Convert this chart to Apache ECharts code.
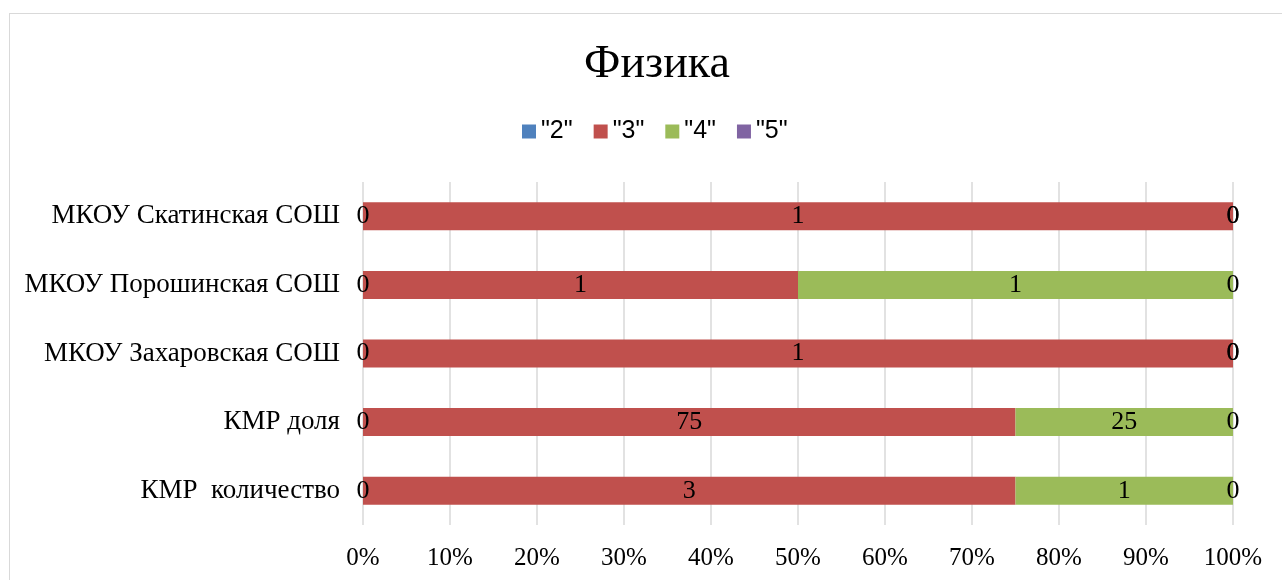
<!DOCTYPE html>
<html>
<head>
<meta charset="utf-8">
<script src="https://cdn.jsdelivr.net/npm/echarts@6/dist/echarts.min.js"></script>
<style>
  html, body { margin: 0; padding: 0; background: #fff; }
  #frame { position: absolute; left: 9px; top: 13px; width: 1290px; height: 600px; border: 1.5px solid #d9d9d9; box-sizing: border-box; }
  #chart { width: 1282px; height: 580px; position: absolute; left: 0; top: 0; }
</style>
</head>
<body>
<div id="frame"></div>
<div id="chart"></div>
<script>
// categories, bottom to top
const categories = ['КМР  количество', 'КМР доля', 'МКОУ Захаровская СОШ', 'МКОУ Порошинская СОШ', 'МКОУ Скатинская СОШ'];
const seriesNames = ['"2"', '"3"', '"4"', '"5"'];
const grade2 = [0, 0, 0, 0, 0];
const grade3 = [3, 75, 1, 1, 1];
const grade4 = [1, 25, 0, 1, 0];
const grade5 = [0, 0, 0, 0, 0];
const colors = ['#4f81bd', '#c0504d', '#9bbb59', '#8064a2'];

const raw = [grade2, grade3, grade4, grade5];
const totals = categories.map((c, i) => raw.reduce((s, arr) => s + arr[i], 0));

const serif = 'Liberation Serif';
const chart = echarts.init(document.getElementById('chart'));
chart.setOption({
  animation: false,
  title: {
    text: 'Физика',
    left: 652,
    textAlign: 'center',
    top: 37,
    textStyle: { fontFamily: serif, fontSize: 46, fontWeight: 'normal', color: '#000' }
  },
  legend: {
    top: 114,
    left: 517,
    itemWidth: 14,
    itemHeight: 14,
    itemGap: 21,
    icon: 'rect',
    textStyle: { fontFamily: 'Liberation Sans', fontSize: 25, color: '#000' },
    data: seriesNames
  },
  grid: { left: 363, right: 49, top: 182, bottom: 55, containLabel: false },
  xAxis: {
    type: 'value',
    min: 0,
    max: 100,
    interval: 10,
    axisLine: { show: false },
    axisTick: { show: false },
    axisLabel: { formatter: '{value}%', fontFamily: serif, fontSize: 25, color: '#000', margin: 21 },
    splitLine: { lineStyle: { color: '#d9d9d9', width: 1.5 } }
  },
  yAxis: {
    type: 'category',
    data: categories,
    axisLine: { show: false },
    axisTick: { show: false },
    axisLabel: { fontFamily: serif, fontSize: 27, color: '#000', margin: 23 }
  },
  series: raw.map((arr, si) => ({
    name: seriesNames[si],
    type: 'bar',
    stack: 'total',
    barWidth: 28,
    itemStyle: { color: colors[si] },
    label: {
      show: true,
      position: 'inside',
      fontFamily: serif,
      fontSize: 26,
      color: '#000',
      formatter: p => String(arr[p.dataIndex])
    },
    data: arr.map((v, i) => totals[i] ? v / totals[i] * 100 : 0)
  }))
});
</script>
</body>
</html>
